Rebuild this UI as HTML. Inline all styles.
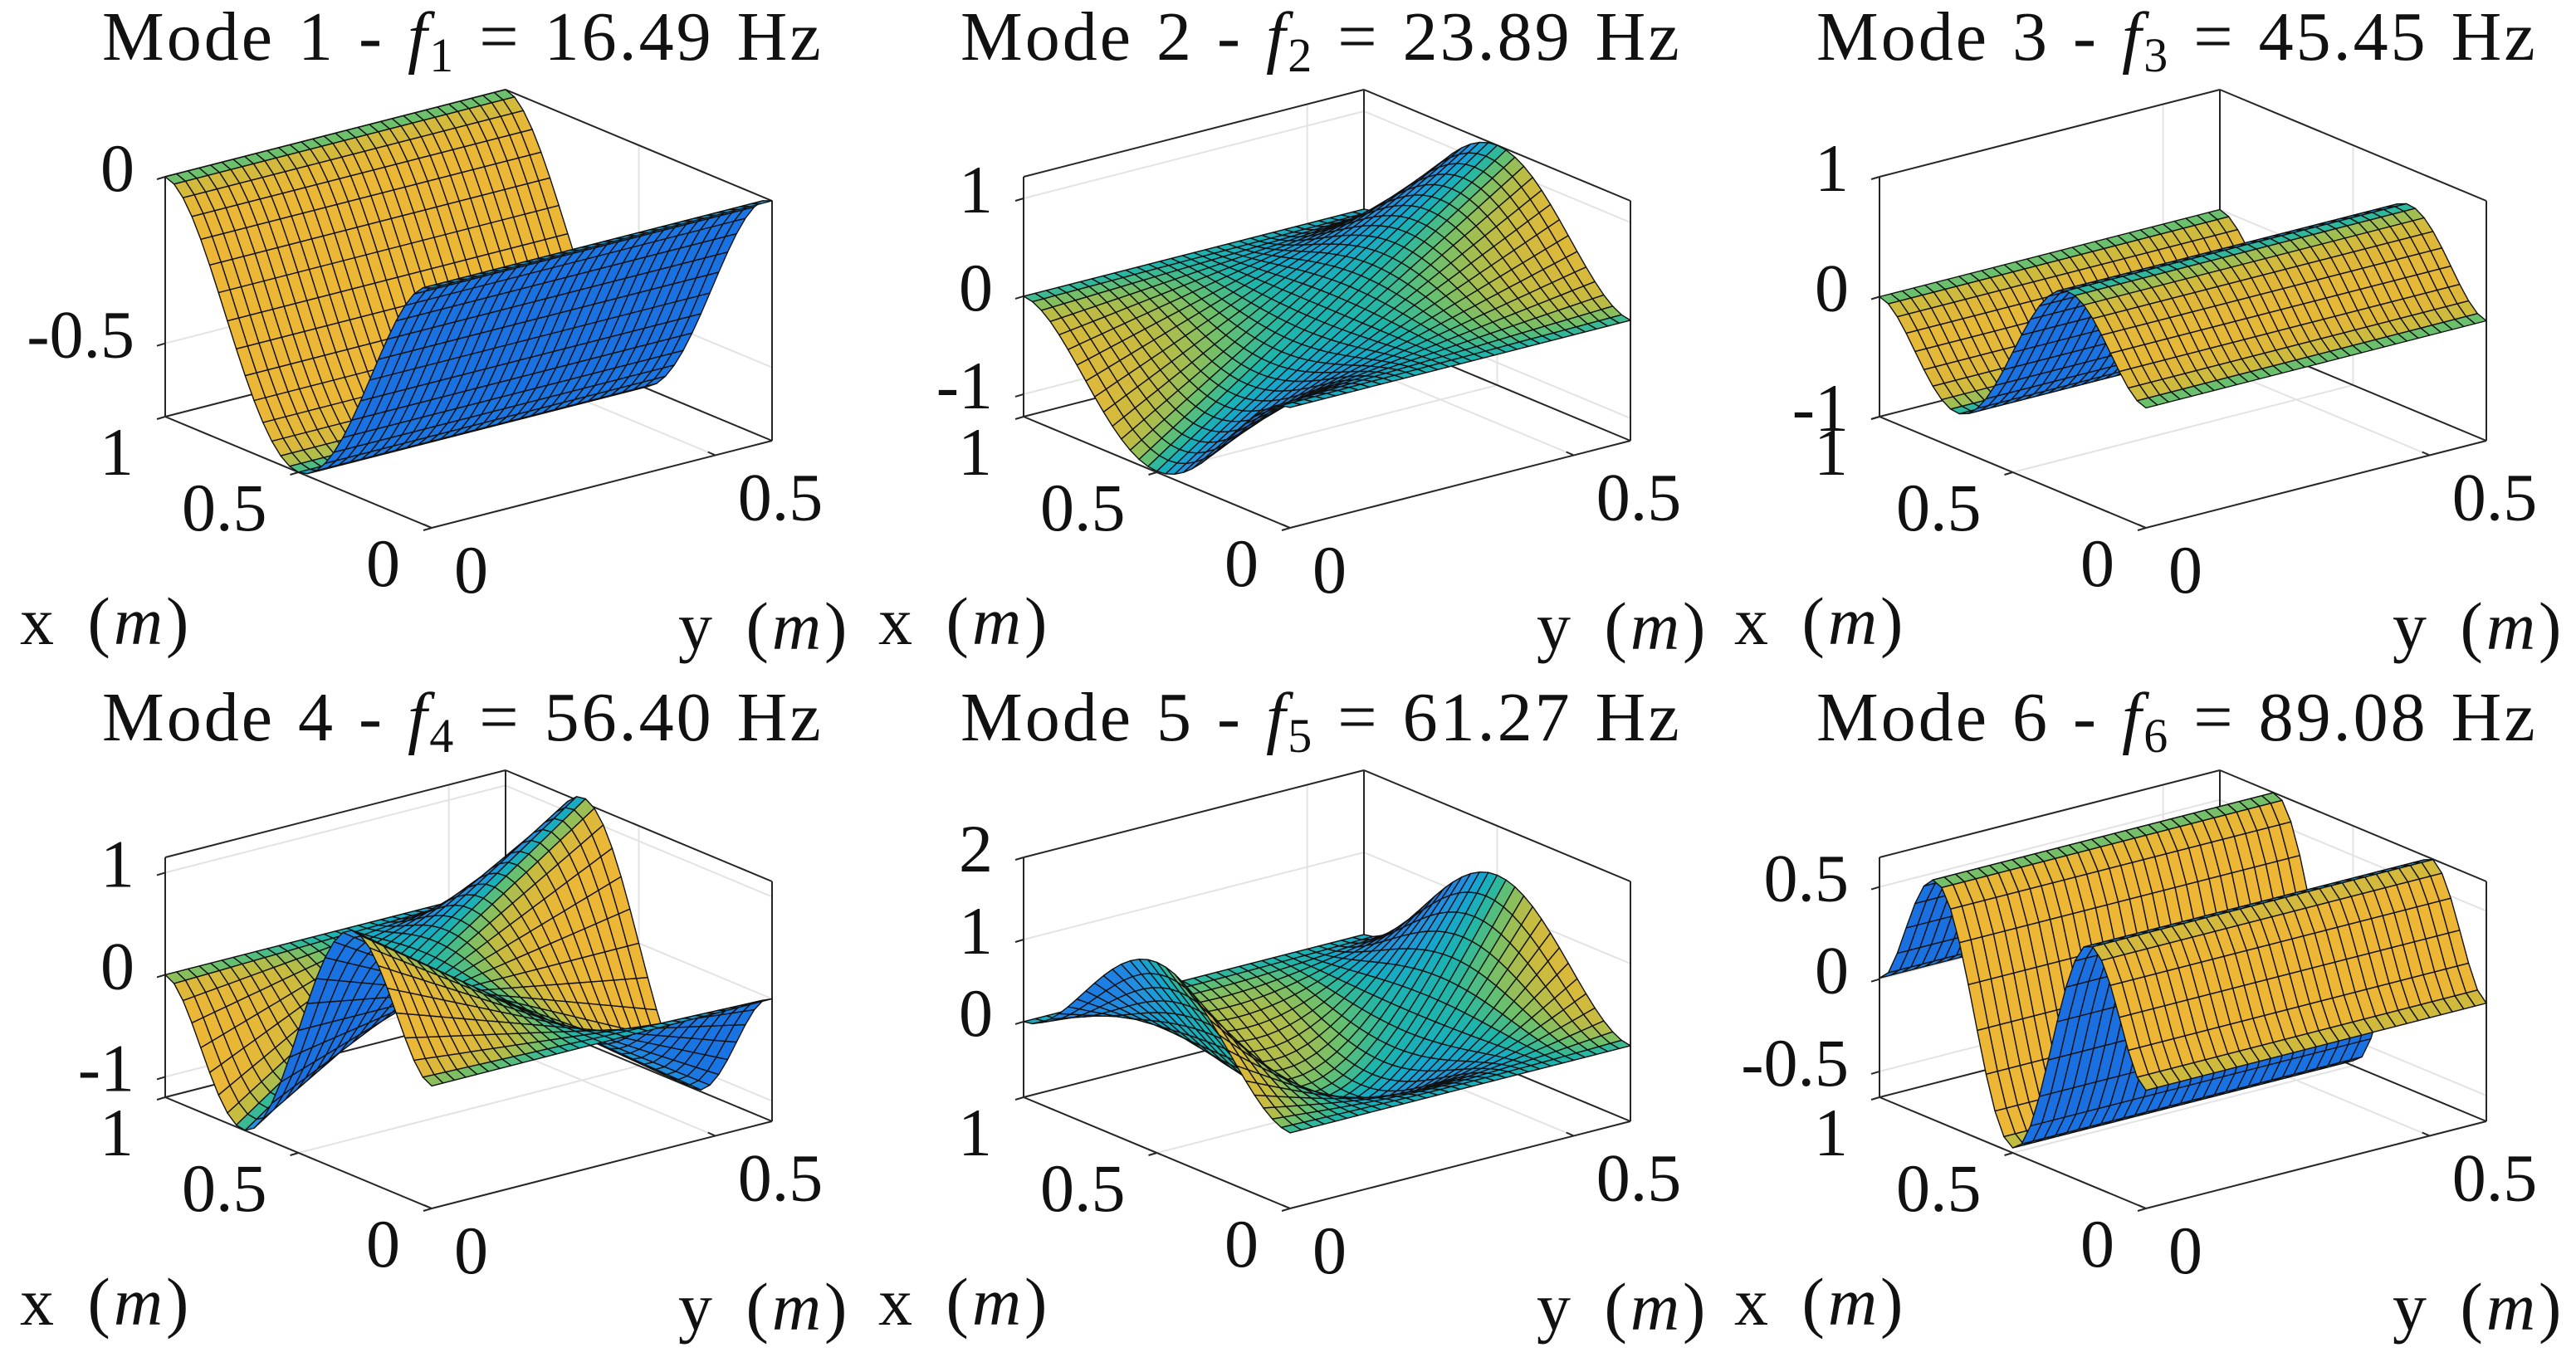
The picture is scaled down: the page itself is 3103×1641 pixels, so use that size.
<!DOCTYPE html>
<html><head><meta charset="utf-8">
<style>
html,body{margin:0;padding:0;background:#fff;}
svg{display:block;font-family:"Liberation Serif",serif;}
</style></head>
<body>
<svg id="fig" width="3103" height="1641" viewBox="0 0 3103 1641" xmlns="http://www.w3.org/2000/svg">
<rect x="0" y="0" width="3103" height="1641" fill="#fff"/>
</svg>
<script>
// ---- data ----
const modeNumbers = [1, 2, 3, 4, 5, 6];
const freqLabels = ['16.49', '23.89', '45.45', '56.40', '61.27', '89.08'];
const xModeIndex = [1, 1, 2, 2, 1, 3];          // clamped-beam mode along x
const yShapeType = ['rigid', 'twist', 'rigid', 'twist', 'bend', 'rigid'];
const amplitudes = [-0.72, -1.22, 0.70, 1.20, 1.40, 0.66];
const zLowLimits = [-0.72, -1.23, -1.0, -1.2, -0.92, -0.64];
const zHighLimits = [0, 1.22, 1.0, 1.15, 2.0, 0.66];
const zTickValues = [[-0.5, 0], [-1, 0, 1], [-1, 0, 1], [-1, 0, 1], [0, 1, 2], [-0.5, 0, 0.5]];
const zTickLabels = [['-0.5', '0'], ['-1', '0', '1'], ['-1', '0', '1'], ['-1', '0', '1'], ['0', '1', '2'], ['-0.5', '0', '0.5']];
const xTickValues = [0, 0.5, 1];
const xTickLabels = ['0', '0.5', '1'];
const yTickValues = [0, 0.5];
const yTickLabels = ['0', '0.5'];
const xLimits = [0, 1];
const yLimits = [0, 0.6];

// ---- layout ----
const NS = 'http://www.w3.org/2000/svg';
const svg = document.getElementById('fig');
const colOff = [0, 1034, 2065];
const rowOff = [0, 820];
const NX = 30, NY = 30;
const betaC = [4.73004, 7.85320, 10.99561];
const sigC = [0.982502, 1.000777, 0.999966];

function clampedMode(n, x) {
  const b = betaC[n - 1], s = sigC[n - 1];
  return Math.cosh(b * x) - Math.cos(b * x) - s * (Math.sinh(b * x) - Math.sin(b * x));
}
function freeMode(v) {
  const b = 4.73004, s = 0.982502;
  return (Math.cosh(b * v) + Math.cos(b * v) - s * (Math.sinh(b * v) + Math.sin(b * v))) / 2;
}
function yFactor(type, v) {
  if (type === 'twist') return 1 - 2 * v;
  if (type === 'bend') return freeMode(v);
  return 1;
}
const parula = [
  [0.00, [53, 42, 135]], [0.125, [25, 115, 228]], [0.25, [35, 145, 225]],
  [0.375, [20, 168, 205]], [0.5, [30, 182, 170]], [0.625, [105, 192, 110]],
  [0.75, [195, 188, 65]], [0.85, [242, 182, 52]], [0.95, [250, 215, 40]], [1.0, [249, 251, 14]]
];
function cmap(c) {
  c = Math.max(0, Math.min(1, c));
  for (let i = 1; i < parula.length; i++) {
    if (c <= parula[i][0]) {
      const a = parula[i - 1], b = parula[i];
      const t = (c - a[0]) / (b[0] - a[0]);
      const r = a[1].map((q, k) => Math.round(q + (b[1][k] - q) * t));
      return 'rgb(' + r.join(',') + ')';
    }
  }
  return 'rgb(249,251,14)';
}
function mk(tag, attrs, parent) {
  const e = document.createElementNS(NS, tag);
  for (const k in attrs) e.setAttribute(k, attrs[k]);
  parent.appendChild(e);
  return e;
}

modeNumbers.forEach((mode, i) => {
  const ox = colOff[i % 3], oy = rowOff[Math.floor(i / 3)];
  const g = document.createElementNS(NS, 'g');
  
  
  svg.appendChild(g);
  const zlo = zLowLimits[i], zhi = zHighLimits[i];
  const uOf = x => (xLimits[1] - x) / (xLimits[1] - xLimits[0]);
  const vOf = y => (y - yLimits[0]) / (yLimits[1] - yLimits[0]);
  const wOf = z => (z - zlo) / (zhi - zlo);
  const P = (u, v, w) => [ox + 199 + u * 321 + v * 410, oy + 502 + u * 134 - v * 105 - w * 289];
  const line = (a, b, stroke, sw, name) => {
    const l = mk('line', {x1: a[0].toFixed(1), y1: a[1].toFixed(1), x2: b[0].toFixed(1), y2: b[1].toFixed(1), stroke: stroke, 'stroke-width': sw}, g);
    
    
  };
  const grid = '#e3e3e3';
  zTickValues[i].forEach(z => {
    const w = wOf(z);
    line(P(0, 0, w), P(0, 1, w), grid, 2, 'z-grid-line');
    line(P(0, 1, w), P(1, 1, w), grid, 2, 'z-grid-line');
  });
  xTickValues.forEach(x => {
    const u = uOf(x);
    line(P(u, 0, 0), P(u, 1, 0), grid, 2, 'x-grid-line');
    line(P(u, 1, 0), P(u, 1, 1), grid, 2, 'x-grid-line');
  });
  yTickValues.forEach(y => {
    const v = vOf(y);
    line(P(0, v, 0), P(1, v, 0), grid, 2, 'y-grid-line');
    line(P(0, v, 0), P(0, v, 1), grid, 2, 'y-grid-line');
  });
  const bk = '#262626', bw = 2;
  line(P(0, 0, 0), P(1, 0, 0), bk, bw, 'x-axis-line');
  line(P(1, 0, 0), P(1, 1, 0), bk, bw, 'y-axis-line');
  line(P(1, 1, 0), P(0, 1, 0), bk, bw, 'box-edge');
  line(P(0, 1, 0), P(0, 0, 0), bk, bw, 'box-edge');
  line(P(0, 0, 0), P(0, 0, 1), bk, bw, 'z-axis-line');
  line(P(0, 0, 1), P(0, 1, 1), bk, bw, 'box-edge');
  line(P(0, 1, 0), P(0, 1, 1), bk, bw, 'box-edge');
  line(P(0, 1, 1), P(1, 1, 1), bk, bw, 'box-edge');
  line(P(1, 1, 0), P(1, 1, 1), bk, bw, 'box-edge');
  zTickValues[i].forEach((z, k) => {
    const p = P(0, 0, wOf(z));
    line(p, [p[0] - 10, p[1] + 3], bk, 2, 'z-tick');
    const t = mk('text', {x: (p[0] - 37).toFixed(1), y: (p[1] + 17).toFixed(1), 'font-size': 82, 'text-anchor': 'end', fill: '#111'}, g);
    t.textContent = zTickLabels[i][k];
    
    
  });
  xTickValues.forEach((x, k) => {
    const p = P(uOf(x), 0, 0);
    line(p, [p[0] - 10, p[1] + 3], bk, 2, 'x-tick');
    const t = mk('text', {x: (p[0] - 38).toFixed(1), y: (p[1] + 70).toFixed(1), 'font-size': 82, 'text-anchor': 'end', fill: '#111'}, g);
    t.textContent = xTickLabels[k];
    
    
  });
  yTickValues.forEach((y, k) => {
    const p = P(1, vOf(y), 0);
    line(p, [p[0] - 9, p[1] - 4], bk, 2, 'y-tick');
    const t = mk('text', {x: (p[0] + 27).toFixed(1), y: (p[1] + 78).toFixed(1), 'font-size': 82, 'text-anchor': 'start', fill: '#111'}, g);
    t.textContent = yTickLabels[k];
    
    
  });
  const xl = mk('text', {x: ox + 24, y: oy + 776, 'font-size': 82, fill: '#111', 'letter-spacing': 4, 'word-spacing': 12}, g);
  xl.innerHTML = 'x (<tspan font-style="italic">m</tspan>)';
  
  
  const yl = mk('text', {x: ox + 817, y: oy + 782, 'font-size': 82, fill: '#111', 'letter-spacing': 4, 'word-spacing': 12}, g);
  yl.innerHTML = 'y (<tspan font-style="italic">m</tspan>)';
  
  
  const tt = mk('text', {x: ox + 123, y: oy + 72, 'font-size': 84, fill: '#111', 'letter-spacing': 3, 'word-spacing': 4}, g);
  tt.innerHTML = 'Mode ' + mode + ' - <tspan font-style="italic">f</tspan><tspan font-size="58" dy="14">' + mode +
    '</tspan><tspan dy="-14"> = ' + freqLabels[i] + ' Hz</tspan>';
  
  

  const n = xModeIndex[i];
  let maxPhi = 0;
  for (let a = 0; a <= 200; a++) maxPhi = Math.max(maxPhi, Math.abs(clampedMode(n, a / 200)));
  const Z = [];
  for (let a = 0; a <= NX; a++) {
    Z.push([]);
    const x = xLimits[0] + (xLimits[1] - xLimits[0]) * a / NX;
    for (let b = 0; b <= NY; b++) {
      const v = b / NY;
      Z[a].push(amplitudes[i] * clampedMode(n, x) / maxPhi * yFactor(yShapeType[i], v));
    }
  }
  const quads = [];
  const dx = (xLimits[1] - xLimits[0]) / NX;
  const zr = zhi - zlo;
  for (let a = 0; a < NX; a++) {
    for (let b = 0; b < NY; b++) {
      const x0 = xLimits[0] + dx * a, x1 = x0 + dx;
      const y0 = yLimits[0] + (yLimits[1] - yLimits[0]) * b / NY, y1 = yLimits[0] + (yLimits[1] - yLimits[0]) * (b + 1) / NY;
      const c4 = [[x0, y0, Z[a][b]], [x1, y0, Z[a + 1][b]], [x1, y1, Z[a + 1][b + 1]], [x0, y1, Z[a][b + 1]]];
      const slope = ((Z[a + 1][b] - Z[a][b]) + (Z[a + 1][b + 1] - Z[a][b + 1])) / (2 * dx) / zr;
      let du = 0, dv = 0, dw = 0;
      const pts = c4.map(q => {
        const u = uOf(q[0]), v = vOf(q[1]), w = wOf(q[2]);
        du += u; dv += v; dw += w;
        return P(u, v, w);
      });
      const depth = 1.185 * du - 0.928 * dv + 0.886 * dw;
      quads.push({pts, depth, c: 0.48 + 0.36 * Math.tanh(1.0 * slope)});
    }
  }
  quads.sort((p, q) => p.depth - q.depth);
  const sg = document.createElementNS(NS, 'g');
  
  
  g.appendChild(sg);
  quads.forEach(q => {
    const poly = mk('polygon', {
      points: q.pts.map(p => p[0].toFixed(1) + ',' + p[1].toFixed(1)).join(' '),
      fill: cmap(q.c), stroke: '#111', 'stroke-width': 1.4, 'stroke-linejoin': 'round'
    }, sg);
    
    
  });
});
</script>
</body></html>
